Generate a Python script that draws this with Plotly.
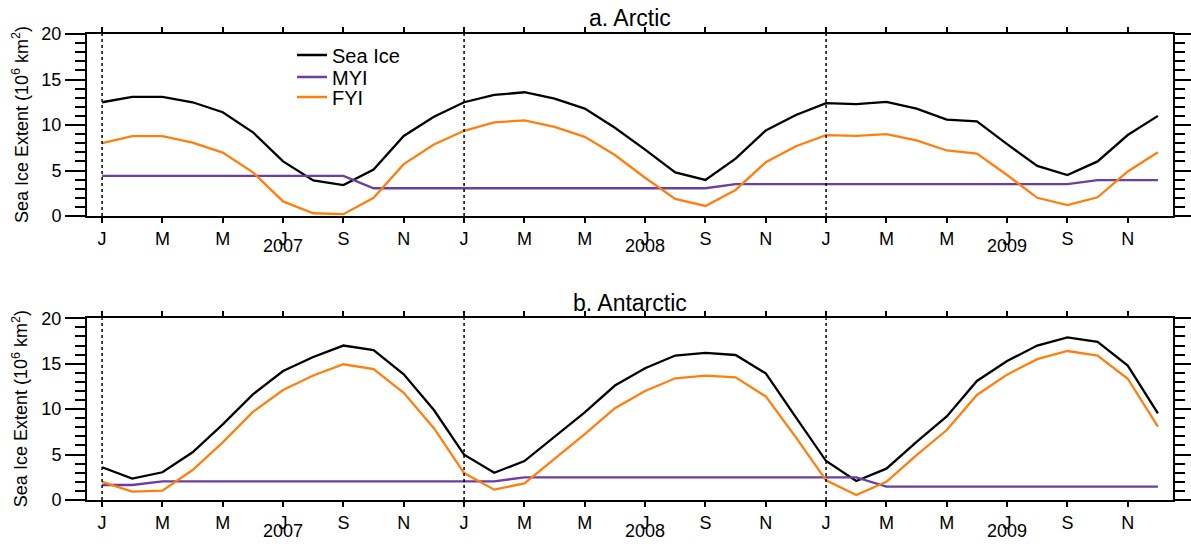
import plotly.graph_objects as go
from plotly.subplots import make_subplots

years = [2007, 2008, 2009]
month_letters = ["J", "M", "M", "J", "S", "N"]

arctic_total = [12.5, 13.1, 13.1, 12.5, 11.4, 9.2, 6.0, 3.9, 3.4, 5.1, 8.8, 10.9,
                12.5, 13.3, 13.6, 12.9, 11.8, 9.7, 7.3, 4.8, 3.96, 6.3, 9.4, 11.1,
                12.4, 12.3, 12.55, 11.8, 10.6, 10.4, 7.9, 5.5, 4.5, 6.0, 8.9, 11.0]
arctic_myi = [4.4, 4.4, 4.4, 4.4, 4.4, 4.4, 4.4, 4.4, 4.4, 3.05, 3.05, 3.05,
              3.05, 3.05, 3.05, 3.05, 3.05, 3.05, 3.05, 3.05, 3.05, 3.5, 3.5, 3.5,
              3.5, 3.5, 3.5, 3.5, 3.5, 3.5, 3.5, 3.5, 3.5, 3.95, 3.95, 3.95]
arctic_fyi = [8.0, 8.77, 8.77, 8.07, 6.97, 4.8, 1.6, 0.3, 0.2, 2.0, 5.7, 7.85,
              9.36, 10.3, 10.5, 9.8, 8.7, 6.7, 4.2, 1.87, 1.1, 2.86, 5.9, 7.67,
              8.88, 8.8, 9.0, 8.3, 7.2, 6.86, 4.5, 2.0, 1.2, 2.06, 4.9, 7.0]

antarctic_total = [3.6, 2.35, 3.05, 5.25, 8.33, 11.63, 14.2, 15.74, 17.0, 16.5, 13.83, 9.9,
                   4.99, 3.0, 4.29, 6.97, 9.65, 12.6, 14.5, 15.9, 16.2, 15.96, 13.94, 9.1,
                   4.29, 2.09, 3.45, 6.4, 9.2, 13.1, 15.3, 17.0, 17.9, 17.4, 14.8, 9.54]
antarctic_myi = [1.65, 1.65, 2.05, 2.05, 2.05, 2.05, 2.05, 2.05, 2.05, 2.05, 2.05, 2.05,
                 2.05, 2.05, 2.5, 2.5, 2.5, 2.5, 2.5, 2.5, 2.5, 2.5, 2.5, 2.5,
                 2.5, 2.5, 1.47, 1.47, 1.47, 1.47, 1.47, 1.47, 1.47, 1.47, 1.47, 1.47]
antarctic_fyi = [2.0, 0.92, 1.03, 3.3, 6.35, 9.7, 12.1, 13.7, 14.94, 14.4, 11.8, 7.9,
                 2.97, 1.14, 1.83, 4.5, 7.26, 10.1, 12.0, 13.4, 13.7, 13.5, 11.4, 6.9,
                 2.16, 0.55, 2.0, 4.95, 7.7, 11.56, 13.8, 15.5, 16.4, 15.9, 13.35, 8.07]

panel_titles = ["a. Arctic", "b. Antarctic"]
series_names = ["Sea Ice", "MYI", "FYI"]
series_colors = ["#000000", "#6A3FA0", "#FF7F0E"]

n = len(arctic_total)
xs = list(range(n))

W, H = 1191, 546
ml, mr, mt, mb = 87, 18, 34, 46
plot_h = H - mt - mb
plot_w = W - ml - mr
top_dom = [(H - mb - 216) / plot_h, 1.0]
bot_dom = [0.0, (H - mb - 318.3) / plot_h]


def py(px):
    return (H - mb - px) / plot_h


def pxx(px):
    return (px - ml) / plot_w


font = "Liberation Sans, Arial, Helvetica, sans-serif"
legend_rows = [55, 77, 97]
legend_ids = ["legend", "legend2", "legend3"]

fig = make_subplots(rows=2, cols=1)
panels = [(arctic_total, arctic_myi, arctic_fyi), (antarctic_total, antarctic_myi, antarctic_fyi)]
for r, data in enumerate(panels, start=1):
    for name, color, vals, lid in zip(series_names, series_colors, data, legend_ids):
        fig.add_trace(go.Scatter(x=xs, y=vals, mode="lines", name=name,
                                 line=dict(color=color, width=2.3),
                                 legend=lid, showlegend=(r == 1)), row=r, col=1)

tickvals = list(range(0, n, 2))
ticktext = [month_letters[(i // 2) % 6] for i in tickvals]

for r, dom in zip([1, 2], [top_dom, bot_dom]):
    fig.update_xaxes(row=r, col=1, range=[-0.5, n - 0.5], tickvals=tickvals, ticktext=ticktext,
                     ticks="outside", ticklen=5, tickwidth=1.5, tickcolor="black",
                     showline=True, linecolor="black", linewidth=2, mirror="ticks",
                     showgrid=False, zeroline=False, automargin=False,
                     tickfont=dict(family=font, size=18, color="black"))
    fig.update_yaxes(row=r, col=1, range=[0, 20], domain=dom, tickvals=[0, 5, 10, 15, 20],
                     ticks="outside", ticklen=20, tickwidth=1.5, tickcolor="black",
                     minor=dict(dtick=1, ticks="outside", ticklen=10, tickwidth=1.5,
                                tickcolor="black", showgrid=False),
                     showline=True, linecolor="black", linewidth=2, mirror="ticks",
                     showgrid=False, zeroline=False, automargin=False,
                     tickfont=dict(family=font, size=18, color="black"))

# dotted year separators
for r in [1, 2]:
    for k in range(len(years)):
        xv = xs[12 * k]
        fig.add_shape(type="line", x0=xv, x1=xv, y0=0, y1=1, xref=f"x{'' if r == 1 else r}",
                      yref=f"y{'' if r == 1 else r} domain",
                      line=dict(color="black", width=1.5, dash="dot"))

annots = []
for title, ty in zip(panel_titles, [18, 302.7]):
    annots.append(dict(text=title, x=0.5, y=py(ty), xref="paper", yref="paper",
                       xanchor="center", yanchor="middle", showarrow=False,
                       font=dict(family=font, size=23, color="black")))
for r, yy in zip([1, 2], [246, 530.7]):
    for k, yr in enumerate(years):
        annots.append(dict(text=str(yr), x=xs[12 * k + 6], y=py(yy),
                           xref=f"x{'' if r == 1 else r}", yref="paper",
                           xanchor="center", yanchor="middle", showarrow=False,
                           font=dict(family=font, size=18, color="black")))
for dom in [top_dom, bot_dom]:
    annots.append(dict(text="Sea Ice Extent (10<sup>6</sup> km<sup>2</sup>)",
                       x=pxx(20), y=(dom[0] + dom[1]) / 2,
                       xref="paper", yref="paper", textangle=-90,
                       xanchor="center", yanchor="middle", showarrow=False,
                       font=dict(family=font, size=18, color="black")))

layout_legends = {}
for lid, row_y in zip(legend_ids, legend_rows):
    layout_legends[lid] = dict(x=pxx(292), y=py(row_y), xanchor="left", yanchor="middle",
                               bgcolor="rgba(0,0,0,0)", borderwidth=0,
                               font=dict(family=font, size=20, color="black"))

fig.update_layout(
    width=W, height=H, margin=dict(l=ml, r=mr, t=mt, b=mb),
    paper_bgcolor="white", plot_bgcolor="white",
    annotations=annots,
    font=dict(family=font, color="black"),
    **layout_legends,
)

fig.write_html("out.html", config={"displayModeBar": False},
               post_script="document.body.style.margin='0px';document.body.style.padding='0px';")
